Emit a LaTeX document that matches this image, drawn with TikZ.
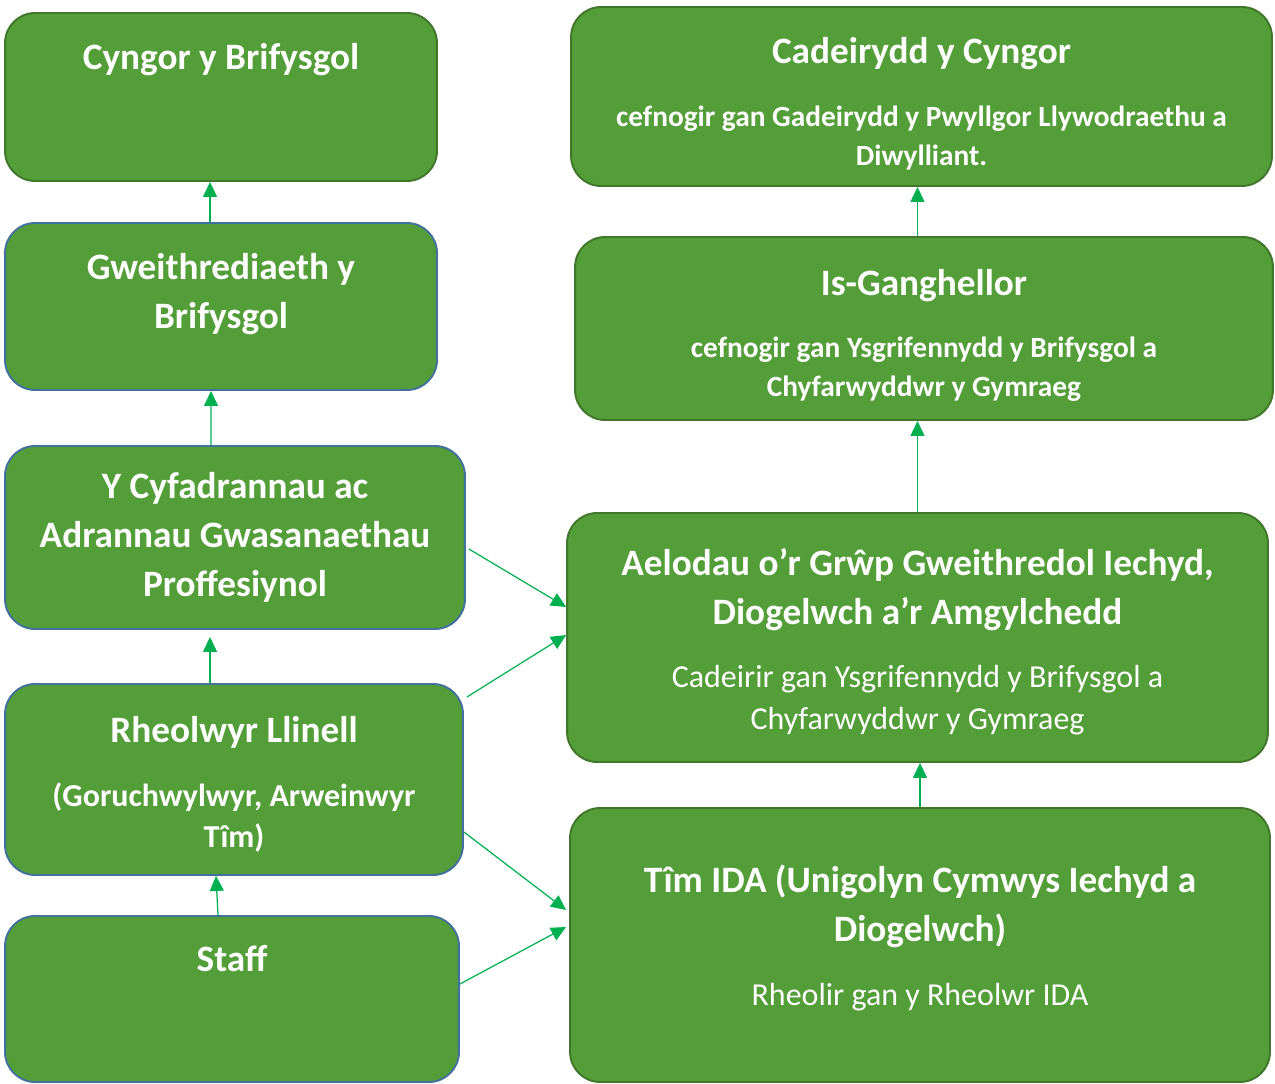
\documentclass[tikz,border=0pt]{standalone}
\usepackage{fontspec}
\setmainfont{Carlito}
\usetikzlibrary{arrows.meta, calc}

\definecolor{boxgreen}{HTML}{549E39}
\definecolor{edgegreen}{HTML}{41772B}
\definecolor{edgeblue}{HTML}{41719C}
\definecolor{arrowgreen}{HTML}{00B050}
\newcommand{\titlefont}{\fontsize{21.2}{27.7}\selectfont\bfseries}
\newcommand{\notefont}{\fontsize{16.7}{22}\selectfont\bfseries}
\newcommand{\plainfont}{\fontsize{18.2}{23.8}\selectfont\mdseries}
\newcommand{\toppad}[1]{\rule{0pt}{#1}}
\newcommand{\botpad}[1]{\rule[-#1]{0pt}{0pt}}

\begin{document}
\begin{tikzpicture}[
    x=0.02cm, y=-0.02cm,
    box/.style={draw=edgegreen, fill=boxgreen, rounded corners=0.6cm,
                line width=1.1pt, text=white, align=center,
                font=\titlefont, inner sep=0pt},
    bluebox/.style={box, draw=edgeblue},
    topline/.style={text height=15pt, text depth=46pt},
    link/.style={draw=arrowgreen, line width=0.7pt,
                 -{Triangle[length=0.3cm, width=0.28cm]}},
  ]
  \useasboundingbox (0,0) rectangle (1275,1084);

  % left column
  \node[box, topline, minimum width=8.64cm, minimum height=3.36cm] (cyngor) at (221,97)
    {Cyngor y Brifysgol};
  \node[bluebox, minimum width=8.64cm, minimum height=3.34cm] (gweith) at (221,306.5)
    {Gweithrediaeth y\\ Brifysgol\botpad{18pt}};
  \node[bluebox, minimum width=9.2cm, minimum height=3.66cm] (cyfad) at (235,537.5)
    {Y Cyfadrannau ac\\ Adrannau Gwasanaethau\\ Proffesiynol};
  \node[bluebox, minimum width=9.16cm, minimum height=3.82cm] (rheol) at (234,779.5)
    {\toppad{20pt}Rheolwyr Llinell\\[9pt] \plainfont\bfseries (Goruchwylwyr, Arweinwyr\\[-4.5pt] \plainfont\bfseries Tîm)};
  \node[bluebox, topline, minimum width=9.08cm, minimum height=3.32cm] (staff) at (232,999)
    {Staff};

  % right column
  \node[box, minimum width=14.02cm, minimum height=3.58cm] (cadeir) at (921.5,96.5)
    {\toppad{23pt}Cadeirydd y Cyngor\\[8.5pt] \notefont cefnogir gan Gadeirydd y Pwyllgor Llywodraethu a\\[-5.6pt] \notefont Diwylliant.};
  \node[box, minimum width=13.96cm, minimum height=3.66cm] (isgang) at (924,328.5)
    {\toppad{22.5pt}Is-Ganghellor\\[8pt] \notefont cefnogir gan Ysgrifennydd y Brifysgol a\\[-5.6pt] \notefont Chyfarwyddwr y Gymraeg};
  \node[box, minimum width=14.02cm, minimum height=4.98cm] (aelod) at (917.5,637.5)
    {\toppad{20pt}Aelodau o’r Grŵp Gweithredol Iechyd,\\ Diogelwch a’r Amgylchedd\\[8.5pt]
     \plainfont Cadeirir gan Ysgrifennydd y Brifysgol a\\[-4pt] \plainfont Chyfarwyddwr y Gymraeg};
  \node[box, minimum width=14cm, minimum height=5.48cm] (tim) at (920,945)
    {Tîm IDA (Unigolyn Cymwys Iechyd a\\ Diogelwch)\\[9pt] \plainfont Rheolir gan y Rheolwr IDA\botpad{11pt}};

  % upward links
  \draw[link] ([xshift=-0.22cm]gweith.north) -- ([xshift=-0.22cm]cyngor.south);
  \draw[link] ([xshift=-0.48cm]cyfad.north) -- ([xshift=-0.2cm]gweith.south);
  \draw[link, shorten >=0.14cm] ([xshift=-0.48cm]rheol.north) -- ([xshift=-0.5cm]cyfad.south);
  \draw[link] ([xshift=-0.28cm]staff.north) -- ([xshift=-0.36cm]rheol.south);
  \draw[link] (aelod.north |- isgang.north) -- (aelod.north |- cadeir.south);
  \draw[link] (aelod.north) -- (aelod.north |- isgang.south);
  \draw[link] (tim.north) -- (tim.north |- aelod.south);

  % links across
  \draw[link] ($(cyfad.east)+(3,11.5)$) -- ($(aelod.west)+(0,-30.5)$);
  \draw[link] ($(rheol.east)+(3,-82.5)$) -- ($(aelod.west)+(0,-2.5)$);
  \draw[link] ($(rheol.east)+(0,52.5)$) -- ($(tim.west)+(-3,-35)$);
  \draw[link] ($(staff.east)+(0,-15)$) -- ($(tim.west)+(-3,-18)$);
\end{tikzpicture}
\end{document}
